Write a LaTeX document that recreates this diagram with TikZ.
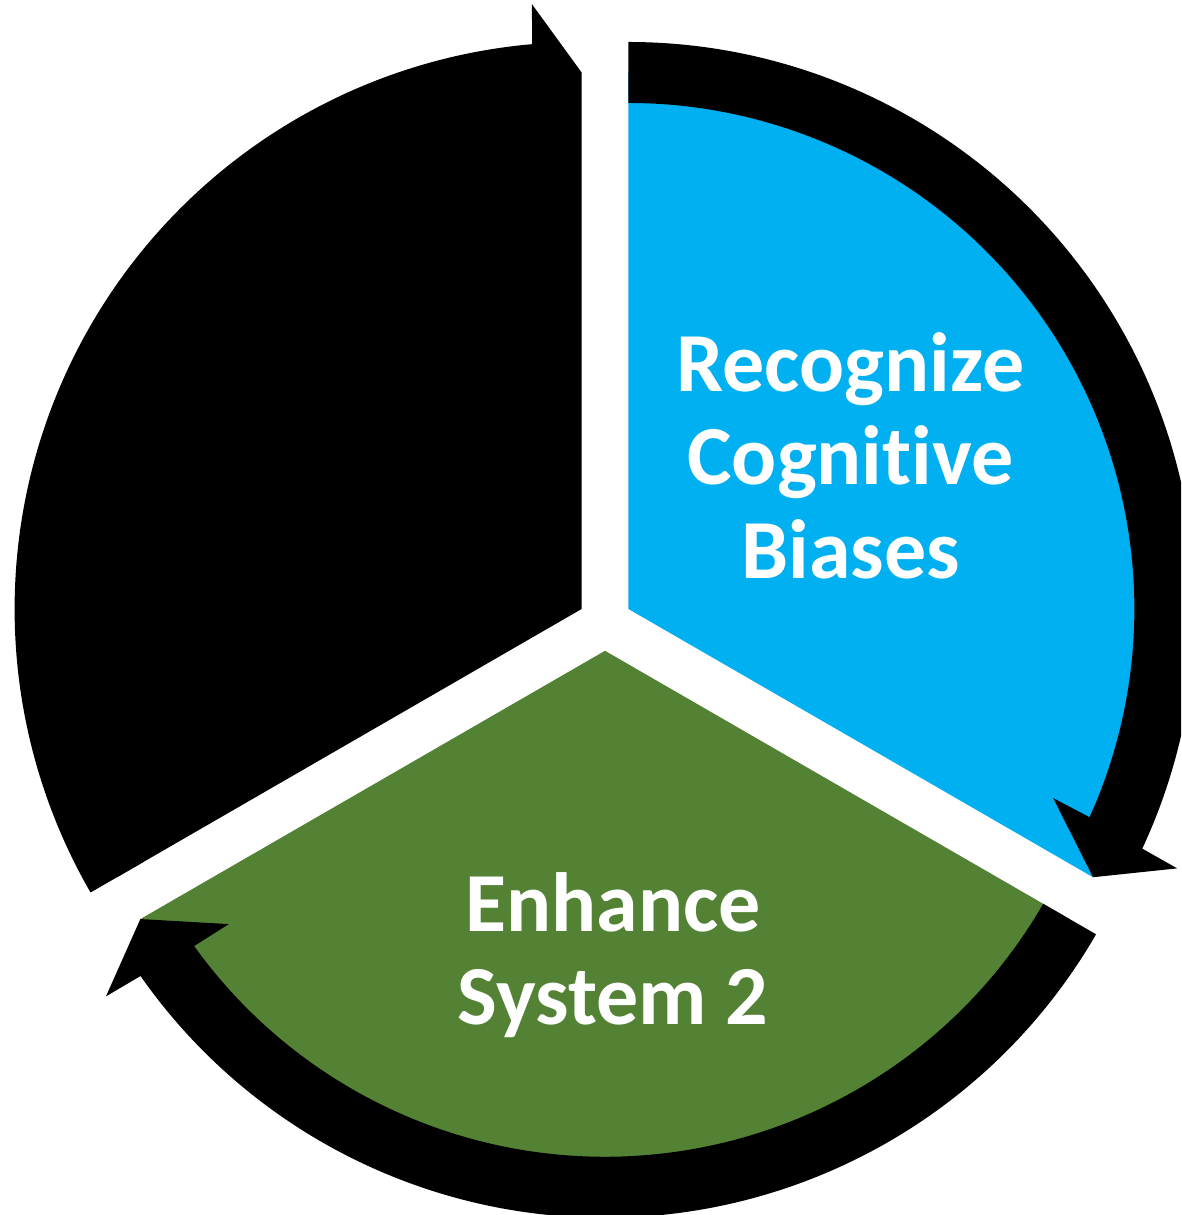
\documentclass[tikz,border=0pt]{standalone}
\usepackage{fontspec}
\setmainfont{Carlito}[Ligatures=NoCommon]
\definecolor{cycleblue}{HTML}{00B0F0}
\definecolor{cyclegreen}{HTML}{548235}
\tikzset{
    cyclearrow/.style={fill=black},
    steplabel/.style={text=white, align=center, font=\fontsize{84}{93.5}\selectfont\bfseries}
}
% band from #1 clockwise over 120 degrees, tip at the far edge
\newcommand{\arrowband}[1]{%
    \fill[cyclearrow] (#1:567) arc[start angle=#1, end angle=#1-115, radius=567]
        -- (#1-115.3:607) -- (#1-120:536.5) -- (#1-114:465) -- (#1-114.3:506)
        arc[start angle=#1-114.3, end angle=#1, radius=506] -- cycle;}
\begin{document}
\begin{tikzpicture}[x=1pt,y=1pt]
    \useasboundingbox (0,0) rectangle (1181,1215);
    \clip (0,0) rectangle (1181,1215);
    \begin{scope}[shift={(581.6,606)}]
        \fill[black] (0,0) -- (210:536.5) arc[start angle=210, end angle=90, radius=536.5] -- cycle;
        \arrowband{210}
    \end{scope}
    \begin{scope}[shift={(628.4,606)}]
        \fill[cycleblue] (0,0) -- (90:536.5) arc[start angle=90, end angle=-30, radius=536.5] -- cycle;
        \arrowband{90}
    \end{scope}
    \begin{scope}[shift={(605,564.2)}]
        \fill[cyclegreen] (0,0) -- (-30:536.5) arc[start angle=-30, end angle=-150, radius=536.5] -- cycle;
        \arrowband{-30}
    \end{scope}
    \node[steplabel] (recognize) at (850.5,759.5) {Recognize\\Cognitive\\Biases};
    \node[steplabel] (enhance) at (613,260) {Enhance\\System 2};
\end{tikzpicture}
\end{document}
